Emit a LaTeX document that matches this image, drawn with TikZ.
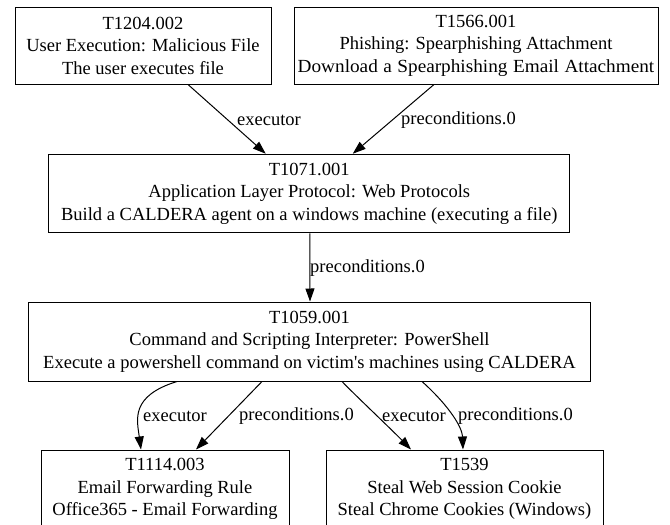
\documentclass[tikz,border=0pt]{standalone}
\usepackage{graphicx}
\usepackage{fontspec}
\newfontfamily\tfont{Liberation Serif}
\usetikzlibrary{arrows.meta}
\begin{document}
\begin{tikzpicture}[x=1pt,y=-1pt,
  box/.style={draw, line width=1pt, rectangle, align=center, inner sep=0pt,
    font=\tfont\fontsize{18.5}{22.5}\selectfont},
  lbl/.style={anchor=west, inner sep=0pt, font=\tfont\fontsize{18.5}{22.5}\selectfont},
  conn/.style={line width=1pt, -{Triangle[length=13pt,width=9pt]}}]
\useasboundingbox (0,0) rectangle (670,525);
\fill[white] (0,0) rectangle (670,525);
\node[box, minimum width=256pt, minimum height=77pt] (b1) at (143,45.5)
  {T1204.002\\User Execution: Malicious File\\The user executes file};
\node[box, minimum width=364pt, minimum height=77pt] (b2) at (476,45.5)
  {T1566.001\\Phishing: Spearphishing Attachment\\\scalebox{1.04}[1]{\spaceskip=5.3pt Download a Spearphishing Email Attachment}};
\node[box, minimum width=521pt, minimum height=78.5pt] (b3) at (309.25,193.5)
  {T1071.001\\Application Layer Protocol: Web Protocols\\Build a CALDERA agent on a windows machine (executing a file)};
\node[box, minimum width=562pt, minimum height=79pt] (b4) at (309.5,341.5)
  {T1059.001\\Command and Scripting Interpreter: PowerShell\\Execute a powershell command on victim's machines using CALDERA};
\node[box, minimum width=248pt, minimum height=78pt] (b5) at (165,489)
  {T1114.003\\Email Forwarding Rule\\Office365 - Email Forwarding};
\node[box, minimum width=277pt, minimum height=78pt] (b6) at (464.5,489)
  {T1539\\Steal Web Session Cookie\\Steal Chrome Cookies (Windows)};

\draw[conn] ([xshift=45pt]b1.south) -- ([xshift=-43.5pt]b3.north);
\draw[conn] ([xshift=-42pt]b2.south) -- ([xshift=43.5pt]b3.north);
\draw[conn] ([xshift=0.5pt]b3.south) -- ([xshift=0.5pt]b4.north);
\draw[conn] ([xshift=-132.5pt]b4.south) .. controls (130,396) and (137,420) .. ([xshift=-24pt]b5.north);
\draw[conn] ([xshift=-47.5pt]b4.south) -- ([xshift=31pt]b5.north);
\draw[conn] ([xshift=32.5pt]b4.south) .. controls (356,396) and (390,428) .. ([xshift=-53.5pt]b6.north);
\draw[conn] ([xshift=112.5pt]b4.south) .. controls (445,402) and (462,425) .. ([xshift=-1.5pt]b6.north);

\node[lbl] (l1) at (237,120) {executor};
\node[lbl] (l2) at (401,120) {preconditions.0};
\node[lbl] (l3) at (310,268) {preconditions.0};
\node[lbl] (l4) at (143,416) {executor};
\node[lbl] (l5) at (239,416) {preconditions.0};
\node[lbl] (l6) at (382,416) {executor};
\node[lbl] (l7) at (458,416) {preconditions.0};
\end{tikzpicture}
\end{document}
